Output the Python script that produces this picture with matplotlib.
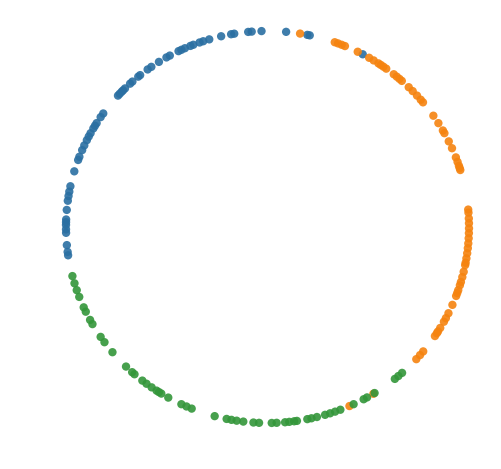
import numpy as np
import matplotlib.pyplot as plt

# angles (degrees) of points on the unit circle
blue_deg = [61.8, 77.9, 78.6, 84.7, 91.7, 94.5, 95.5, 99.5, 100.4, 103.3, 106.8,
            108.6, 109.7, 111.6, 112.5, 114.2, 115.3, 116.2, 119.0, 120.1, 122.6,
            125.2, 126.5, 129.2, 129.9, 132.1, 133.0, 135.0, 135.8, 136.4, 137.2,
            137.9, 144.6, 145.9, 148.0, 148.9, 149.8, 151.4, 152.5, 153.7, 155.4,
            156.9, 159.0, 160.0, 163.5, 168.0, 169.6, 170.9, 172.3, 175.0, 177.8,
            178.6, 179.4, 180.7, 181.7, 185.3, 187.3, 188.3]
orange_deg = [1.1, 2.5, 4.2, 5.1, 16.9, 17.5, 18.2, 19.4, 20.8, 23.7, 25.9, 28.6,
              29.5, 32.0, 34.6, 39.5, 40.5, 42.1, 43.9, 45.5, 48.2, 49.1, 50.1,
              51.2, 53.9, 54.9, 55.8, 56.6, 58.2, 59.7, 63.4, 67.4, 68.4, 69.5,
              70.5, 80.7, 294.0, 301.7, 317.6, 319.2, 320.6, 326.2, 327.2, 327.8,
              329.0, 331.1, 332.3, 333.9, 336.6, 339.4, 340.3, 341.2, 342.7, 343.7,
              345.2, 346.8, 348.8, 349.5, 350.8, 352.3, 353.8, 355.2, 356.7, 358.2,
              359.6]
green_deg = [194.5, 196.7, 198.8, 200.9, 204.2, 205.6, 208.3, 209.7, 214.1, 216.0,
             219.7, 225.4, 227.8, 228.7, 231.6, 233.1, 234.9, 236.6, 237.4, 238.2,
             240.5, 244.7, 246.3, 247.9, 254.8, 258.3, 259.7, 261.2, 263.1, 266.0,
             267.6, 271.2, 272.6, 275.0, 276.2, 277.6, 278.4, 281.4, 282.6, 284.2,
             286.6, 288.1, 289.6, 291.2, 295.3, 298.5, 299.6, 302.1, 309.2, 310.5,
             311.9]

groups = [(blue_deg, '#2a6fa2'), (orange_deg, '#f5830f'), (green_deg, '#33963a')]

fig = plt.figure(figsize=(5.01, 4.69), dpi=100)
ax = fig.add_axes([0, 0, 1, 1])

for deg, col in groups:
    t = np.radians(deg)
    ax.scatter(np.cos(t), np.sin(t), s=36, color=col, alpha=0.9, edgecolors='none')

ax.set_xlim(-1.3275, 1.1588)
ax.set_ylim(-1.2347, 1.1582)
ax.axis('off')

fig.savefig('out.png', dpi=100)
